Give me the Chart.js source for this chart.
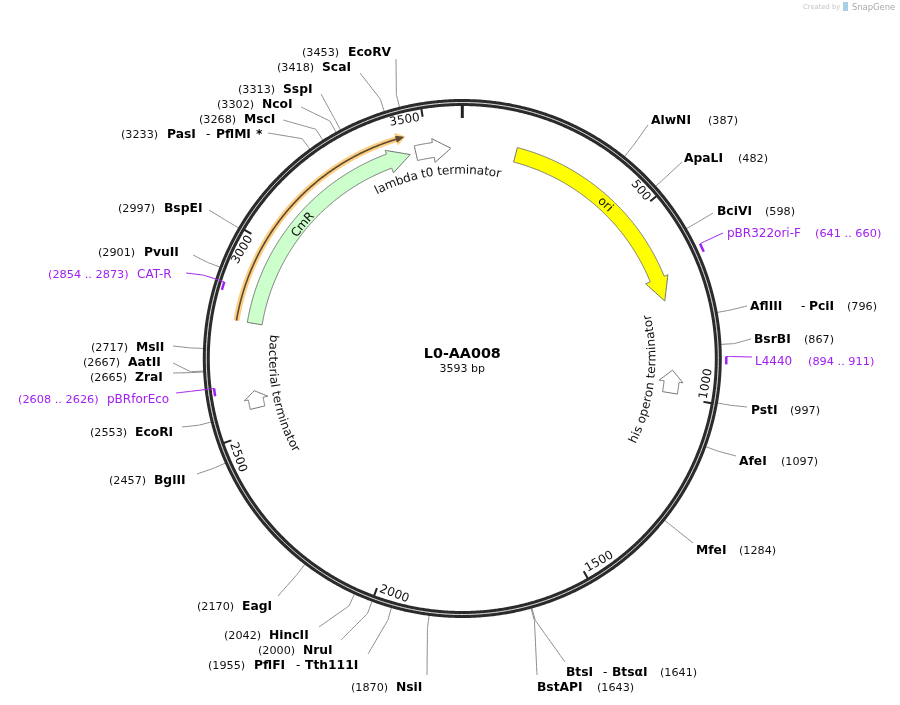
<!DOCTYPE html>
<html>
<head>
<meta charset="utf-8">
<title>L0-AA008</title>
<script src="https://cdn.jsdelivr.net/npm/chart.js@4/dist/chart.umd.js"></script>
<style>
  html, body { margin: 0; padding: 0; background: #fff; }
  #wrap { width: 900px; height: 705px; }
</style>
</head>
<body>
<div id="wrap"><canvas id="myChart" width="900" height="705"></canvas></div>
<script>
const plasmidName = "L0-AA008";
const plasmidLength = 3593;

const tickValues = [500, 1000, 1500, 2000, 2500, 3000, 3500];

const siteNames = ["EcoRV", "ScaI", "SspI", "NcoI", "MscI", "PasI", "BspEI", "PvuII", "MslI", "AatII", "ZraI", "EcoRI", "BglII",
  "EagI", "HincII", "NruI", "PflFI", "NsiI", "BstAPI", "BtsI", "MfeI", "AfeI", "PstI", "BsrBI", "AflIII", "BciVI", "ApaLI", "AlwNI"];
const sitePositions = [3453, 3418, 3313, 3302, 3268, 3233, 2997, 2901, 2717, 2667, 2665, 2553, 2457,
  2170, 2042, 2000, 1955, 1870, 1643, 1641, 1284, 1097, 997, 867, 796, 598, 482, 387];

const primerNames = ["CAT-R", "pBRforEco", "pBR322ori-F", "L4440"];
const primerStarts = [2854, 2608, 641, 894];
const primerEnds = [2873, 2626, 660, 911];

const featureNames = ["ori", "CmR", "lambda t0 terminator", "his operon terminator", "bacterial terminator"];
const featureStarts = [146, 2790, 3466, 930, 2560];
const featureEnds = [740, 3450, 3562, 992, 2607];
const featureHeads = [677, 3390, 3514, 961, 2585];

const orfStart = 2790;
const orfEnd = 3444;

// layout of the labels, kept apart from the values
const siteLabelLayout = {
  EcoRV: { name: 348, num: 302, y: 52, end: [396, 59] },
  ScaI: { name: 322, num: 277, y: 67, end: [360, 73] },
  SspI: { name: 283, num: 238, y: 89, end: [321, 94] },
  NcoI: { name: 262, num: 217, y: 104, end: [301, 107] },
  MscI: { name: 244, num: 199, y: 119, end: [283, 120] },
  PasI: { name: 167, num: 121, y: 134, end: [268, 133], extra: [["-", 206], ["PflMI", 216], ["*", 256]] },
  BspEI: { name: 164, num: 118, y: 208, end: [209, 210] },
  PvuII: { name: 144, num: 98, y: 252, end: [193, 255] },
  MslI: { name: 136, num: 91, y: 347, end: [173, 346] },
  AatII: { name: 128, num: 83, y: 362, end: [173, 363] },
  ZraI: { name: 135, num: 90, y: 377, end: [173, 373] },
  EcoRI: { name: 135, num: 90, y: 432, end: [182, 427] },
  BglII: { name: 154, num: 109, y: 480, end: [197, 474] },
  EagI: { name: 242, num: 197, y: 606, end: [278, 596] },
  HincII: { name: 269, num: 224, y: 635, end: [319, 627] },
  NruI: { name: 303, num: 258, y: 650, end: [341, 640] },
  PflFI: { name: 254, num: 208, y: 665, end: [368, 654], extra: [["-", 296], ["Tth111I", 305]] },
  NsiI: { name: 396, num: 351, y: 687, end: [427, 675] },
  BstAPI: { name: 537, num: 597, y: 687, end: [537, 675] },
  BtsI: { name: 566, num: 660, y: 672, end: [565, 662], extra: [["-", 603], ["BtsαI", 612]] },
  MfeI: { name: 696, num: 739, y: 550, end: [693, 543] },
  AfeI: { name: 739, num: 781, y: 461, end: [736, 456] },
  PstI: { name: 751, num: 790, y: 410, end: [747, 407] },
  BsrBI: { name: 754, num: 804, y: 339, end: [751, 339] },
  AflIII: { name: 750, num: 847, y: 306, end: [747, 306], extra: [["-", 801], ["PciI", 809]] },
  BciVI: { name: 717, num: 765, y: 211, end: [713, 213] },
  ApaLI: { name: 684, num: 738, y: 158, end: [682, 162] },
  AlwNI: { name: 651, num: 708, y: 120, end: [648, 125] },
};

const primerLabelLayout = {
  "CAT-R": { name: 137, num: 48, y: 274, end: [186, 273], r: 250, elbow: 272, attach: "end" },
  pBRforEco: { name: 107, num: 18, y: 399, end: [176, 393], r: 250, elbow: 274, attach: "end" },
  "pBR322ori-F": { name: 727, num: 815, y: 233, end: [723, 233], r: 264, elbow: 269, attach: "start" },
  L4440: { name: 755, num: 808, y: 361, end: [752, 357], r: 264, elbow: 268, attach: "start" },
};

const cx = 462.3;
const cy = 358.5;
const ringR = 256;
const purple = "#a020f0";
const labelFont = '"DejaVu Sans", sans-serif';

function toAngle(bp) {
  return (bp / plasmidLength) * Math.PI * 2;
}

function polar(bp, r) {
  const a = toAngle(bp);
  return { x: cx + r * Math.sin(a), y: cy - r * Math.cos(a) };
}

function arcPoints(from, to, r) {
  const pts = [];
  const dir = to > from ? 1 : -1;
  for (let bp = from; (bp - to) * dir < 0; bp += dir * 6) {
    pts.push(polar(bp, r));
  }
  pts.push(polar(to, r));
  return pts;
}

// arrow outline, tail at "tail", tip at "tip", head starts at "head"
function arrowShape(tail, head, tip, rIn, rOut, wingIn, wingOut) {
  const rMid = (rIn + rOut) / 2;
  return [
    ...arcPoints(tail, head, rOut),
    polar(head, wingOut),
    polar(tip, rMid),
    polar(head, wingIn),
    ...arcPoints(head, tail, rIn),
    polar(tail, rOut),
  ];
}

const datasets = [];

function addLine(data, color, width, extra) {
  datasets.push({
    data: data,
    showLine: true,
    borderColor: color,
    borderWidth: width,
    pointRadius: 0,
    fill: false,
    // a tiny tension keeps chart.js off its x-sorted fast path, which breaks circles
    tension: 0.001,
    order: -datasets.length,
    ...extra,
  });
}

// leaders go under the ring
siteNames.forEach((name, i) => {
  const bp = sitePositions[i];
  const lay = siteLabelLayout[name];
  addLine([polar(bp, 256), polar(bp, 272), { x: lay.end[0], y: lay.end[1] }], "#8c8c8c", 1);
});

// backbone
addLine(arcPoints(0, plasmidLength, ringR), "#2b2b2b", 7);
addLine(arcPoints(0, plasmidLength, ringR), "#ffffff", 1);

// ticks
addLine([polar(0, 253), polar(0, 240.5)], "#222222", 3);
tickValues.forEach((bp) => {
  addLine([polar(bp, 253), polar(bp, 245)], "#222222", 2);
});

// primers
primerNames.forEach((name, i) => {
  const lay = primerLabelLayout[name];
  const attach = lay.attach === "start" ? primerStarts[i] : primerEnds[i];
  addLine(arcPoints(primerStarts[i], primerEnds[i], lay.r), purple, 2.5);
  addLine([polar(attach, lay.r), polar(attach, lay.elbow), { x: lay.end[0], y: lay.end[1] }], purple, 1);
});

// features
const featureFills = ["#ffff00", "#ccffcc", "#ffffff", "#ffffff", "#ffffff"];
featureNames.forEach((name, i) => {
  const reverse = name === "his operon terminator";
  const tail = reverse ? featureEnds[i] : featureStarts[i];
  const tip = reverse ? featureStarts[i] : featureEnds[i];
  addLine(arrowShape(tail, featureHeads[i], tip, 203, 218, 198, 222), "#707070", 1, {
    fill: "shape",
    backgroundColor: featureFills[i],
  });
});

// ORF along the CmR gene
const orfHead = orfEnd - 18;
addLine(arcPoints(orfStart, orfHead, 229), "#fdcf85", 6);
addLine([polar(orfHead, 235), polar(orfEnd + 4, 229), polar(orfHead, 223), polar(orfHead, 235)], "#fdcf85", 1, {
  fill: "shape",
  backgroundColor: "#fdcf85",
});
addLine(arcPoints(orfStart, orfHead, 229), "#5c4a30", 1.6);
addLine([polar(orfHead, 232), polar(orfEnd, 229), polar(orfHead, 226), polar(orfHead, 232)], "#5c4a30", 1, {
  fill: "shape",
  backgroundColor: "#5c4a30",
});

// text of the map
const mapText = {
  id: "mapText",
  afterDatasetsDraw(chart) {
    const ctx = chart.ctx;
    const sx = (v) => chart.scales.x.getPixelForValue(v);
    const sy = (v) => chart.scales.y.getPixelForValue(v);

    function put(text, x, y, font, color) {
      ctx.font = font;
      ctx.fillStyle = color;
      ctx.textAlign = "left";
      ctx.textBaseline = "middle";
      ctx.fillText(text, sx(x), sy(y + 1));
    }

    function curved(text, bpMid, r, inward, font) {
      ctx.font = font;
      ctx.fillStyle = "#111";
      ctx.textAlign = "center";
      ctx.textBaseline = "middle";
      const total = ctx.measureText(text).width;
      let run = -total / 2;
      for (let k = 0; k < text.length; k++) {
        const w = ctx.measureText(text[k]).width;
        const off = (run + w / 2) / r;
        const a = toAngle(bpMid) + (inward ? -off : off);
        ctx.save();
        ctx.translate(sx(cx + r * Math.sin(a)), sy(cy - r * Math.cos(a)));
        ctx.rotate(inward ? a + Math.PI : a);
        ctx.fillText(text[k], 0, 0);
        ctx.restore();
        run += w;
      }
    }

    ctx.save();

    const boldFont = "bold 12.3px " + labelFont;
    siteNames.forEach((name, i) => {
      const lay = siteLabelLayout[name];
      put(name, lay.name, lay.y, boldFont, "#000");
      put("(" + sitePositions[i] + ")", lay.num, lay.y, "11.2px " + labelFont, "#111");
      (lay.extra || []).forEach((p) => {
        put(p[0], p[1], lay.y, p[0] === "-" ? "12px " + labelFont : boldFont, "#000");
      });
    });

    primerNames.forEach((name, i) => {
      const lay = primerLabelLayout[name];
      put(name, lay.name, lay.y, "12px " + labelFont, purple);
      put("(" + primerStarts[i] + " .. " + primerEnds[i] + ")", lay.num, lay.y, "11.3px " + labelFont, purple);
    });

    // tick numbers
    ctx.font = "12px " + labelFont;
    ctx.fillStyle = "#111";
    ctx.textBaseline = "middle";
    tickValues.forEach((bp) => {
      const a = toAngle(bp);
      const flip = a > Math.PI / 2 && a < Math.PI * 1.5;
      const p = polar(bp, 244.5);
      ctx.save();
      ctx.translate(sx(p.x), sy(p.y));
      ctx.rotate(flip ? a - Math.PI : a);
      ctx.textAlign = flip ? "left" : "right";
      ctx.fillText(String(bp), flip ? 3 : -3, 0);
      ctx.restore();
    });

    const featureFont = "12px " + labelFont;
    curved(featureNames[0], 428, 210, false, featureFont);
    curved(featureNames[1], 3094, 208, false, featureFont);
    curved(featureNames[2], 3515, 188, false, featureFont);
    curved(featureNames[3], 964, 190, true, featureFont);
    curved(featureNames[4], 2585, 190, true, featureFont);

    // centre title
    ctx.textAlign = "center";
    ctx.textBaseline = "middle";
    ctx.fillStyle = "#000";
    ctx.font = "bold 14.3px " + labelFont;
    ctx.fillText(plasmidName, sx(cx), sy(354));
    ctx.fillStyle = "#111";
    ctx.font = "11px " + labelFont;
    ctx.fillText(plasmidLength + " bp", sx(cx), sy(369));

    // watermark
    ctx.textAlign = "left";
    ctx.fillStyle = "#c4c4c4";
    ctx.font = "6.8px " + labelFont;
    ctx.fillText("Created by", sx(803), sy(7.5));
    ctx.fillStyle = "#a9cfe6";
    ctx.fillRect(sx(843), sy(2), 5, 9);
    ctx.fillStyle = "#a8a8a8";
    ctx.font = "8.4px " + labelFont;
    ctx.fillText("SnapGene", sx(852), sy(7.5));

    ctx.restore();
  },
};

let ctx = document.getElementById("myChart").getContext("2d");
let myChart = new Chart(ctx, {
  type: "scatter",
  data: { datasets: datasets },
  plugins: [mapText],
  options: {
    responsive: false,
    animation: false,
    devicePixelRatio: 1,
    layout: { padding: 0 },
    plugins: { legend: { display: false }, tooltip: { enabled: false } },
    scales: {
      x: { type: "linear", min: 0, max: 900, display: false },
      y: { type: "linear", min: 0, max: 705, reverse: true, display: false },
    },
  },
});
</script>
</body>
</html>
